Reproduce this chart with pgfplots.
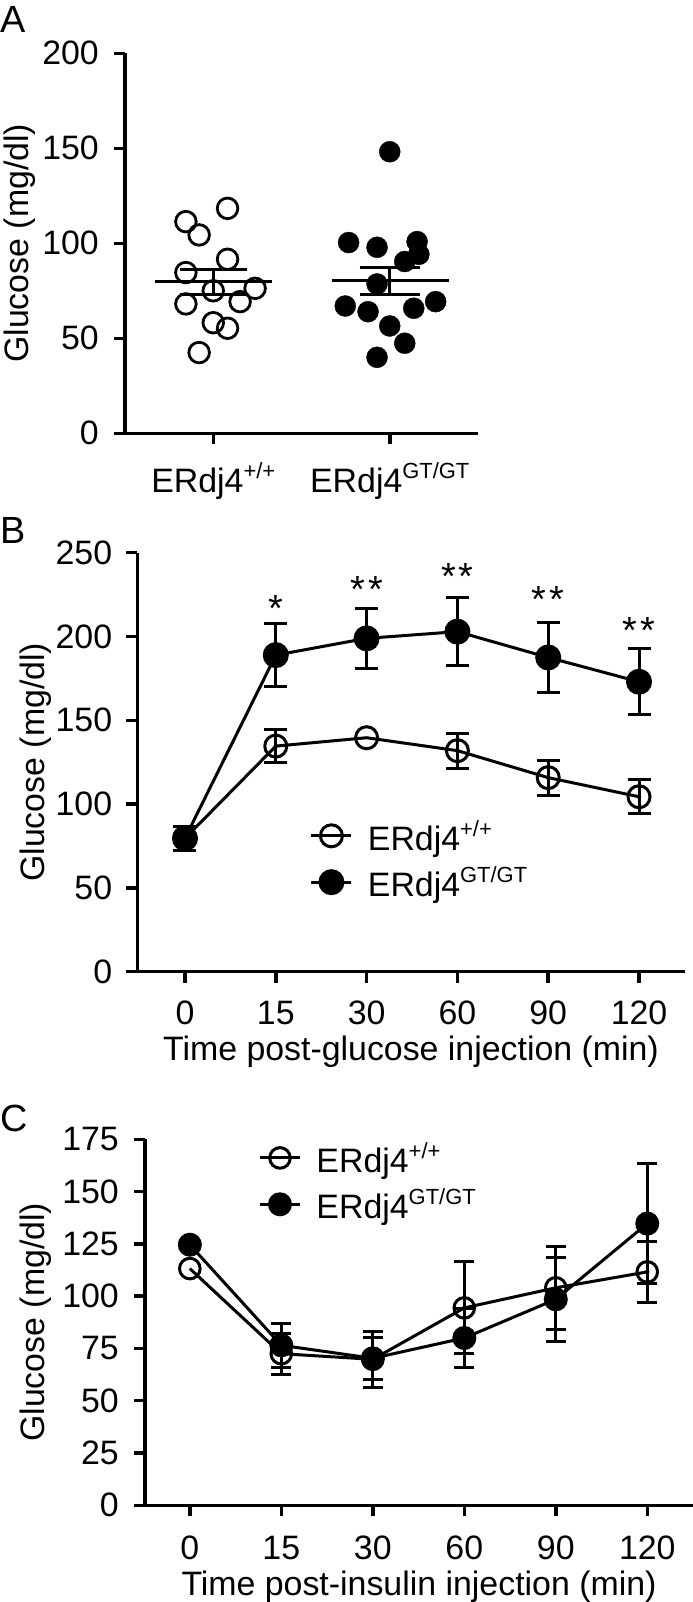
\documentclass[border=0pt]{standalone}
\usepackage{fontspec}
\setmainfont{Liberation Sans}
\usepackage{pgfplots}
\pgfplotsset{compat=1.18}
\newcommand{\sps}[1]{\raisebox{14bp}{\fontsize{22}{24}\selectfont #1}}
\pgfplotsset{
  panel/.style={
    scale only axis,
    axis lines=left,
    axis line style={-, line width=3.5bp},
    tick style={line width=3.5bp, black},
    tick align=outside,
    major tick length=11bp,
    tick label style={font=\fontsize{34}{40}\selectfont},
    xticklabel style={anchor=base},
    yticklabel style={anchor=east, inner sep=0pt, xshift=-14bp},
    label style={font=\fontsize{34}{40}\selectfont},
    ylabel style={anchor=center},
    xlabel style={at={(axis description cs:0.5,0)}, anchor=base},
    /pgf/number format/assume math mode=true,
    clip=false,
    legend style={draw=none, fill=none, font=\fontsize{34}{40}\selectfont, inner sep=0pt, row sep=11bp, anchor=north west,
      /tikz/every odd column/.append style={column sep=13bp}},
    legend cell align=left,
    legend image code/.code={\draw[mark repeat=2,mark phase=2] plot coordinates {(0bp,0bp) (20bp,0bp) (40bp,0bp)};},
  },
  openser/.style={black, line width=3bp, mark=o, mark size=#1, mark options={line width=3bp, solid}},
  fillser/.style={black, line width=3bp, mark=*, mark size=#1, mark options={fill=black, solid}},
  ebars/.style={forget plot, only marks, mark=none, black,
    error bars/y dir=both, error bars/y explicit, error bars/error bar style={line width=3bp},
    error bars/error mark options={rotate=90, mark size=#1, line width=3bp}},
}
\begin{document}
\begin{tikzpicture}
\useasboundingbox (0bp,0bp) rectangle (693bp,-1602bp);
\node[anchor=base west, inner sep=0pt, font=\fontsize{38}{40}\selectfont] at (0bp,-32bp) {A};
\node[anchor=base west, inner sep=0pt, font=\fontsize{38}{40}\selectfont] at (0bp,-543bp) {B};
\node[anchor=base west, inner sep=0pt, font=\fontsize{38}{40}\selectfont] at (0bp,-1131bp) {C};

% ---------------- Panel A ----------------
\begin{axis}[panel, at={(125bp,-433.3bp)}, anchor=south west, width=353bp, height=380bp,
  xmin=0.5, xmax=2.5, ymin=0, ymax=200,
  xtick={1,2}, xticklabels={ERdj4\sps{+/+},ERdj4\sps{GT/GT}},
  ytick={0,50,100,150,200},
  xticklabel style={yshift=-48.4bp},
  yticklabel style={xshift=-1bp},
  ylabel={Glucose (mg/dl)}, ylabel style={at={(axis description cs:-0.2975,0.5)}}]
\addplot[only marks, black, mark=o, mark size=10.3bp, mark options={line width=2.8bp}] coordinates {
(1.081,118.4) (0.845,111.4) (0.920,104.4) (1.081,91.6) (0.845,84.6) (1.000,75.0)
(1.237,76.3) (0.845,68.1) (1.152,69.3) (1.000,58.2) (1.081,55.3) (0.920,42.5)};
\addplot[only marks, black, mark=*, mark size=10.5bp, mark options={fill=black}] coordinates {
(2.000,148.2) (1.767,100.4) (1.928,97.9) (2.155,100.9) (2.165,94.2) (2.085,90.4) (1.928,78.6)
(1.748,67.0) (1.877,64.0) (2.136,65.8) (2.260,69.3) (2.000,56.5) (2.085,47.4) (1.928,40.0)};
% mean and SEM, wild type
\addplot[black, line width=3bp] coordinates {(0.669,79.8) (1.335,79.8)};
\addplot[black, line width=3bp] coordinates {(1,73.2) (1,86.3)};
\addplot[black, line width=3bp] coordinates {(0.81,86.3) (1.19,86.3)};
\addplot[black, line width=3bp] coordinates {(0.81,73.2) (1.19,73.2)};
% mean and SEM, GT/GT
\addplot[black, line width=3bp] coordinates {(1.670,80.4) (2.335,80.4)};
\addplot[black, line width=3bp] coordinates {(2,72.8) (2,87.4)};
\addplot[black, line width=3bp] coordinates {(1.83,87.4) (2.17,87.4)};
\addplot[black, line width=3bp] coordinates {(1.83,72.8) (2.17,72.8)};
\end{axis}

% ---------------- Panel B ----------------
\begin{axis}[panel, at={(137.3bp,-971.7bp)}, anchor=south west, width=547.4bp, height=419bp,
  xmin=-0.525, xmax=5.503, ymin=0, ymax=250,
  xtick={0,1,2,3,4,5}, xticklabels={0,15,30,60,90,120},
  ytick={0,50,100,150,200,250},
  xticklabel style={yshift=-42bp},
  ylabel={Glucose (mg/dl)}, ylabel style={at={(axis description cs:-0.1854,0.5)}},
  xlabel={Time post-glucose injection (min)}, xlabel style={yshift=-88.3bp},
  legend style={at={(axis description cs:0.315,0.367)}}]
\addplot[ebars=11.5bp] coordinates {
(0,79.6) +- (0,7.3) (1,134.6) +- (0,9.8) (3,131.9) +- (0,10.5) (4,115.8) +- (0,10.5) (5,104.4) +- (0,10.2)};
\addplot[openser=11bp] coordinates {(0,79.6) (1,134.6) (2,139.6) (3,131.9) (4,115.8) (5,104.4)};
\addlegendentry{ERdj4\sps{+/+}}
\addplot[ebars=11.5bp] coordinates {
(0,79.6) +- (0,7) (1,188.9) +- (0,18.7) (2,198.9) +- (0,17.7) (3,202.9) +- (0,20.3) (4,187.5) +- (0,21) (5,173.0) +- (0,19.7)};
\addplot[fillser=11.5bp] coordinates {(0,79.6) (1,188.9) (2,198.9) (3,202.9) (4,187.5) (5,173.0)};
\addlegendentry{ERdj4\sps{GT/GT}}
\node[anchor=base, yshift=-22bp, font=\fontsize{38}{40}\selectfont] at (axis cs:1,221.8) {*};
\node[anchor=base, yshift=-22bp, font=\fontsize{38}{40}\selectfont] at (axis cs:2,233.7) {*\kern3bp*};
\node[anchor=base, yshift=-22bp, font=\fontsize{38}{40}\selectfont] at (axis cs:3,241.3) {*\kern3bp*};
\node[anchor=base, yshift=-22bp, font=\fontsize{38}{40}\selectfont] at (axis cs:4,227.7) {*\kern3bp*};
\node[anchor=base, yshift=-22bp, font=\fontsize{38}{40}\selectfont] at (axis cs:5,208.8) {*\kern3bp*};
\end{axis}

% ---------------- Panel C ----------------
\begin{axis}[panel, at={(145bp,-1505.3bp)}, anchor=south west, width=548bp, height=366bp,
  xmin=-0.49, xmax=5.5, ymin=0, ymax=175,
  xtick={0,1,2,3,4,5}, xticklabels={0,15,30,60,90,120},
  ytick={0,25,50,75,100,125,150,175},
  xticklabel style={yshift=-43.4bp},
  yticklabel style={xshift=-1bp},
  ylabel={Glucose (mg/dl)}, ylabel style={at={(axis description cs:-0.1989,0.5)}},
  xlabel={Time post-insulin injection (min)}, xlabel style={yshift=-90bp},
  legend style={at={(axis description cs:0.2067,0.998)}}]
\addplot[ebars=10bp] coordinates {
(1,72.5) +- (0,9.8) (2,69.8) +- (0,13.4) (3,94.4) +- (0,22) (4,104.0) +- (0,19.9) (5,111.6) +- (0,14.6)};
\addplot[openser=10.3bp] coordinates {(0,113.2) (1,72.5) (2,69.8) (3,94.4) (4,104.0) (5,111.6)};
\addlegendentry{ERdj4\sps{+/+}}
\addplot[ebars=10bp] coordinates {
(1,76.5) +- (0,10.4) (2,70.3) +- (0,10) (3,80.0) +- (0,13.9) (4,98.5) +- (0,20.2) (5,134.7) +- (0,28.7)};
\addplot[fillser=10.5bp] coordinates {(0,124.6) (1,76.5) (2,70.3) (3,80.0) (4,98.5) (5,134.7)};
\addlegendentry{ERdj4\sps{GT/GT}}
\end{axis}
\end{tikzpicture}
\end{document}
